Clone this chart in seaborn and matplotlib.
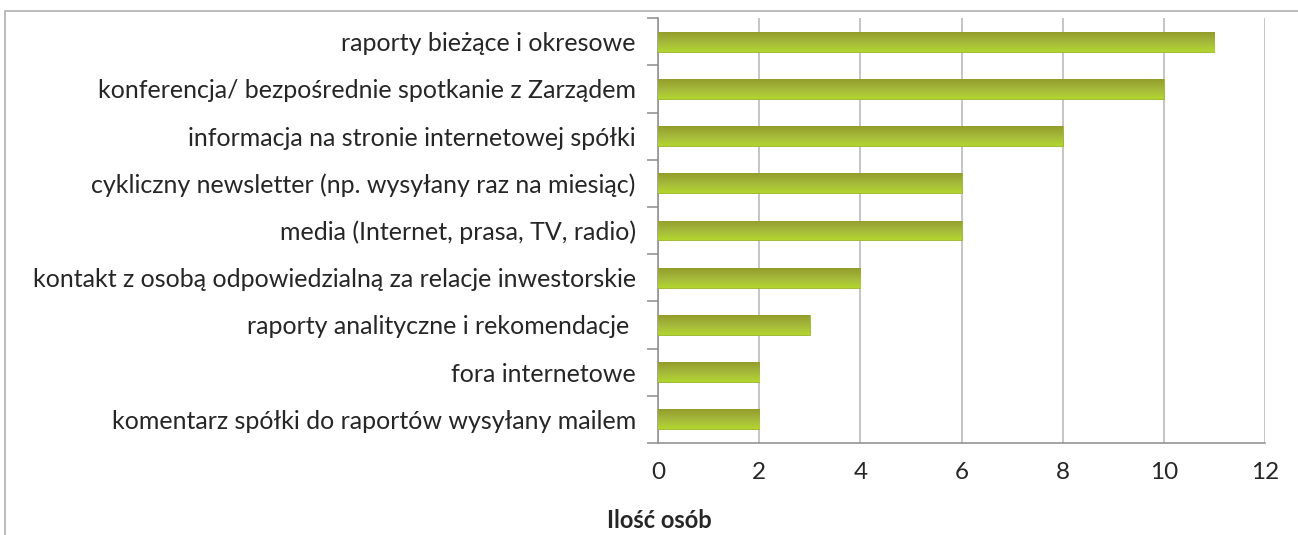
import numpy as np
import pandas as pd
import seaborn as sns
import matplotlib.pyplot as plt
from matplotlib.colors import LinearSegmentedColormap
from matplotlib.patches import Rectangle

categories = [
    "raporty bieżące i okresowe",
    "konferencja/ bezpośrednie spotkanie z Zarządem",
    "informacja na stronie internetowej spółki",
    "cykliczny newsletter (np. wysyłany raz na miesiąc)",
    "media (Internet, prasa, TV, radio)",
    "kontakt z osobą odpowiedzialną za relacje inwestorskie",
    "raporty analityczne i rekomendacje ",
    "fora internetowe",
    "komentarz spółki do raportów wysyłany mailem",
]
counts = [11, 10, 8, 6, 6, 4, 3, 2, 2]
x_ticks = [0, 2, 4, 6, 8, 10, 12]

df = pd.DataFrame({"kategoria": categories, "osoby": counts})

sns.set_style("white")
plt.rcParams["font.family"] = ["Lato", "DejaVu Sans"]

fig = plt.figure(figsize=(12.98, 5.35), dpi=100)
ax = fig.add_axes([0.507, 0.172, 0.4676, 0.794])

sns.barplot(data=df, x="osoby", y="kategoria", orient="h", color="#a4c22c",
            width=0.42, ax=ax, zorder=3)

# vertical gradient inside each bar: darker olive on top, light green below
cmap = LinearSegmentedColormap.from_list("g", ["#939d2a", "#a5b83c", "#b2d52e"])
grad = np.linspace(1, 0, 64).reshape(-1, 1)
for p in ax.patches:
    x0, y0 = p.get_x(), p.get_y()
    w, h = p.get_width(), p.get_height()
    im = ax.imshow(grad, cmap=cmap, aspect="auto", zorder=4,
                   extent=(x0, x0 + w, y0, y0 + h), origin="upper")
    im.set_clip_path(p)
    p.set_edgecolor("#9cb82a")
    p.set_linewidth(0.6)

ax.set_xlim(0, 12)
ax.set_ylim(len(categories) - 0.5, -0.5)
ax.set_xticks(x_ticks)
ax.set_xticklabels([str(t) for t in x_ticks], fontsize=17.5)
ax.xaxis.grid(True, color="#b5b5b5", linewidth=1.1, zorder=0)
ax.set_axisbelow(True)

ax.set_yticks(np.arange(len(categories)))
ax.set_yticklabels(categories, fontsize=18)
ax.tick_params(axis="y", which="major", left=True, length=0, pad=16)
ax.tick_params(axis="x", which="major", bottom=True, length=0, pad=14)

# category boundary ticks on the left axis, value ticks below the bottom axis
ax.set_yticks(np.arange(-0.5, len(categories), 1), minor=True)
ax.tick_params(axis="y", which="minor", left=True, length=8, width=1.1,
               color="#8c8c8c", direction="out")
ax.set_xticks(x_ticks, minor=True)
ax.tick_params(axis="x", which="minor", bottom=True, length=8, width=1.1,
               color="#8c8c8c", direction="out")

for s in ["top", "right"]:
    ax.spines[s].set_visible(False)
for s in ["left", "bottom"]:
    ax.spines[s].set_color("#8c8c8c")
    ax.spines[s].set_linewidth(1.1)

ax.set_xlabel("")
ax.set_ylabel("")
fig.text(0.508, 0.028, "Ilość osób", fontsize=17, fontweight="bold",
         ha="center", va="center")

fig.patches.append(Rectangle((0.004, -0.1), 1.2, 1.079, transform=fig.transFigure,
                             fill=False, edgecolor="#b0b0b0", linewidth=1.2))

fig.savefig("out.png", dpi=100)
